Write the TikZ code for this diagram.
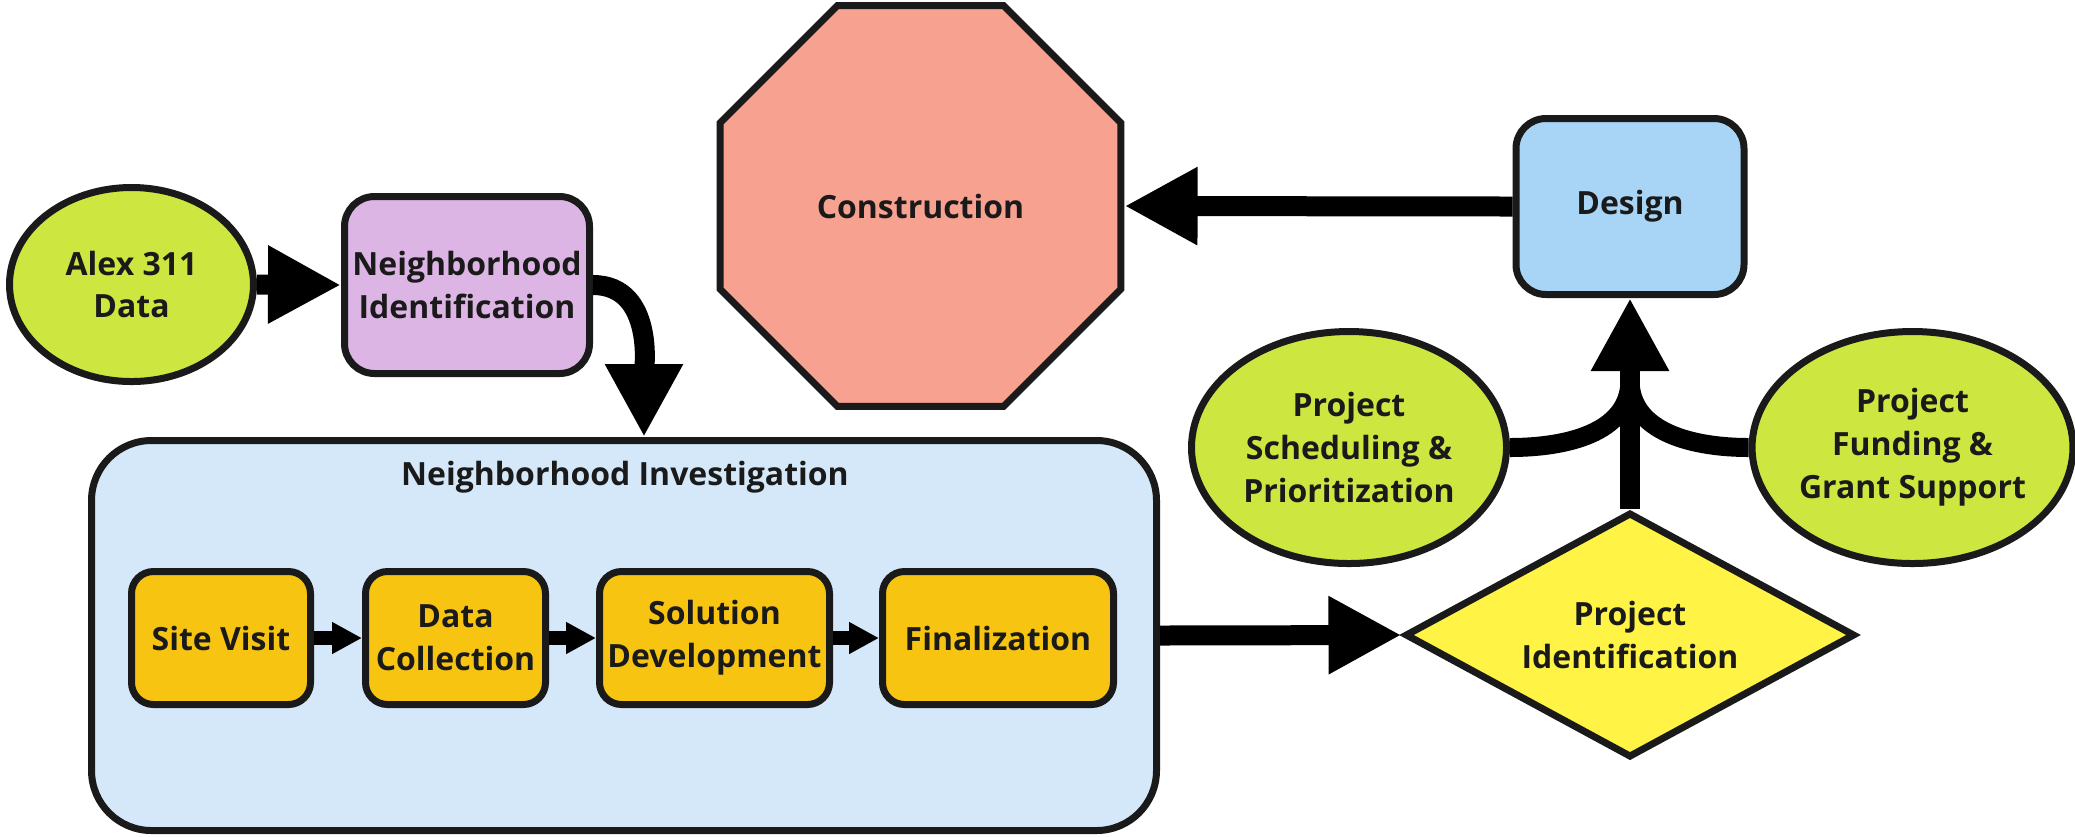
\documentclass[tikz,border=0pt]{standalone}
\usepackage{fontspec}
\setmainfont{Open Sans}
\usetikzlibrary{shapes.geometric, arrows.meta}

\definecolor{ink}{HTML}{1A1A1A}
\definecolor{limegreen}{HTML}{CDE640}
\definecolor{lilac}{HTML}{DDB5E5}
\definecolor{paleblue}{HTML}{D4E8F9}
\definecolor{skyblue}{HTML}{A8D5F5}
\definecolor{amber}{HTML}{F7C511}
\definecolor{lemon}{HTML}{FFF345}
\definecolor{salmon}{HTML}{F7A291}

\tikzset{
  shape base/.style={draw=ink, line width=0.07cm, text=ink, align=center, inner sep=0pt,
    font=\fontsize{9.1}{12.2}\selectfont\bfseries},
  oval/.style={shape base, ellipse, fill=limegreen},
  roundbox/.style={shape base, rectangle, rounded corners=0.3cm},
  taskbox/.style={shape base, rectangle, rounded corners=0.22cm, fill=amber,
    minimum height=1.33cm},
  bigarrow/.style={line width=0.2cm, -{Triangle[length=0.73cm,width=0.73cm]}},
  smallarrow/.style={line width=0.14cm, -{Triangle[length=0.3cm,width=0.3cm]}},
  feeder/.style={line width=0.19cm}
}

\begin{document}
\begin{tikzpicture}
    \useasboundingbox (0,0) rectangle (20.75,-8.36);

    % left part
    \node[oval, minimum width=2.44cm, minimum height=1.94cm] (alex) at (1.315,-2.845) {Alex 311\\Data};
    \node[roundbox, fill=lilac, minimum width=2.45cm, minimum height=1.77cm] (ni) at (4.67,-2.85) {Neighborhood\\Identification};
    \node[roundbox, fill=paleblue, rounded corners=0.6cm, minimum width=10.65cm, minimum height=3.90cm] (inv) at (6.24,-6.355) {};
    \node[text=ink, font=\fontsize{9.1}{12.2}\selectfont\bfseries] (invtitle) at (6.25,-4.77) {Neighborhood Investigation};

    % steps inside the investigation
    \node[taskbox, minimum width=1.79cm] (site) at (2.21,-6.38) {Site Visit};
    \node[taskbox, minimum width=1.80cm] (collect) at (4.555,-6.38) {Data\\Collection};
    \node[taskbox, minimum width=2.30cm] (solution) at (7.145,-6.38) {Solution\\Development};
    \node[taskbox, minimum width=2.31cm] (final) at (9.98,-6.38) {Finalization};

    % right part
    \node[shape base, diamond, aspect=1.84, fill=lemon, minimum width=4.50cm, minimum height=2.45cm] (pi) at (16.30,-6.35) {Project\\Identification};
    \node[oval, minimum width=3.15cm, minimum height=2.32cm] (sched) at (13.49,-4.475) {Project\\Scheduling \&\\Prioritization};
    \node[oval, minimum width=3.14cm, minimum height=2.32cm] (fund) at (19.125,-4.475) {Project\\Funding \&\\Grant Support};
    \node[roundbox, fill=skyblue, minimum width=2.28cm, minimum height=1.76cm] (design) at (16.30,-2.065) {Design};
    \node[shape base, regular polygon, regular polygon sides=8, fill=salmon, minimum size=4.34cm] (constr) at (9.205,-2.06) {Construction};

    \coordinate (drop) at (6.44,-4.37);
    \coordinate (join) at (16.30,-3.80);

    % connectors
    \draw[bigarrow] (alex.east) -- (ni.west);
    \draw[bigarrow] (ni.east) to[out=0,in=90] (drop);
    \foreach \a/\b in {site/collect, collect/solution, solution/final}
        \draw[smallarrow] (\a) -- (\b);
    \draw[bigarrow] (inv.east) -- (pi.west);
    \draw[feeder] (sched.east) to[out=0,in=-90] (join);
    \draw[feeder] (fund.west) to[out=180,in=-90] (join);
    \draw[bigarrow] (pi.north) -- (design.south);
    \draw[bigarrow] (design.west) -- (constr.east);
\end{tikzpicture}
\end{document}
